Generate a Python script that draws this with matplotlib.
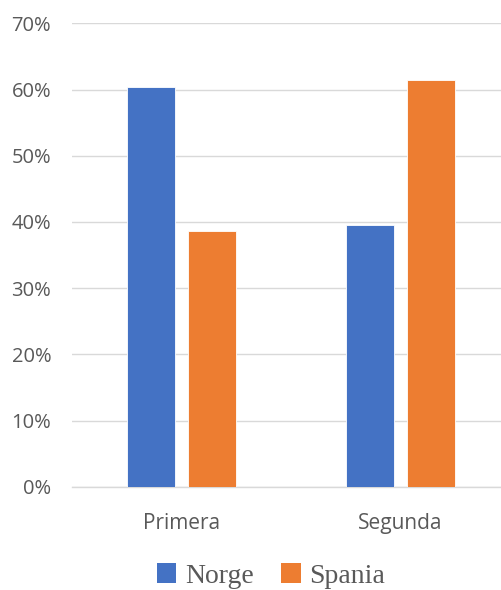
import matplotlib
matplotlib.use("Agg")
import matplotlib.pyplot as plt
import numpy as np
from matplotlib.patches import Patch

categories = ["Primera", "Segunda"]
series_names = ["Norge", "Spania"]
norge = [60.4, 39.5]
spania = [38.6, 61.4]
yticks = [0, 10, 20, 30, 40, 50, 60, 70]
colors = ["#4472C4", "#ED7D31"]

fig = plt.figure(figsize=(5.02, 5.90), dpi=100)
W, H = 502, 590
left, right = 72, 510
bottom_px, top_px = 486.7, 23.3
ax = fig.add_axes([left / W, (H - bottom_px) / H, (right - left) / W, (bottom_px - top_px) / H])

x = np.arange(len(categories))
bw = 0.22
off = 0.141
ax.bar(x - off, norge, bw, color=colors[0], edgecolor="#FFFFFF", linewidth=0.6, zorder=3)
ax.bar(x + off, spania, bw, color=colors[1], edgecolor="#FFFFFF", linewidth=0.6, zorder=3)

ax.set_xlim(-0.5, len(categories) - 0.5)
ax.set_ylim(0, 70)
ax.set_yticks(yticks)
ax.set_yticklabels([f"{v}%" for v in yticks], fontsize=14.5, color="#595959", family="Open Sans")
ax.set_xticks(x)
ax.set_xticklabels(categories, fontsize=15, color="#595959", family="Open Sans")
ax.tick_params(axis="both", length=0)
ax.tick_params(axis="y", pad=15)
ax.tick_params(axis="x", pad=19)
ax.yaxis.grid(True, color="#D9D9D9", linewidth=1.0, zorder=0)
for s in ["top", "right", "left"]:
    ax.spines[s].set_visible(False)
ax.spines["bottom"].set_color("#D9D9D9")
ax.spines["bottom"].set_linewidth(1.0)

handles = [Patch(facecolor=c, edgecolor="none") for c in colors]
fig.legend(handles, series_names, loc="center", bbox_to_anchor=(271 / W, (H - 576) / H),
           ncol=2, frameon=False, prop={"family": "Liberation Serif", "size": 20},
           handlelength=0.7, handleheight=0.7, handletextpad=0.3, columnspacing=1.0,
           labelcolor="#595959")

fig.savefig("out.png", dpi=100)
